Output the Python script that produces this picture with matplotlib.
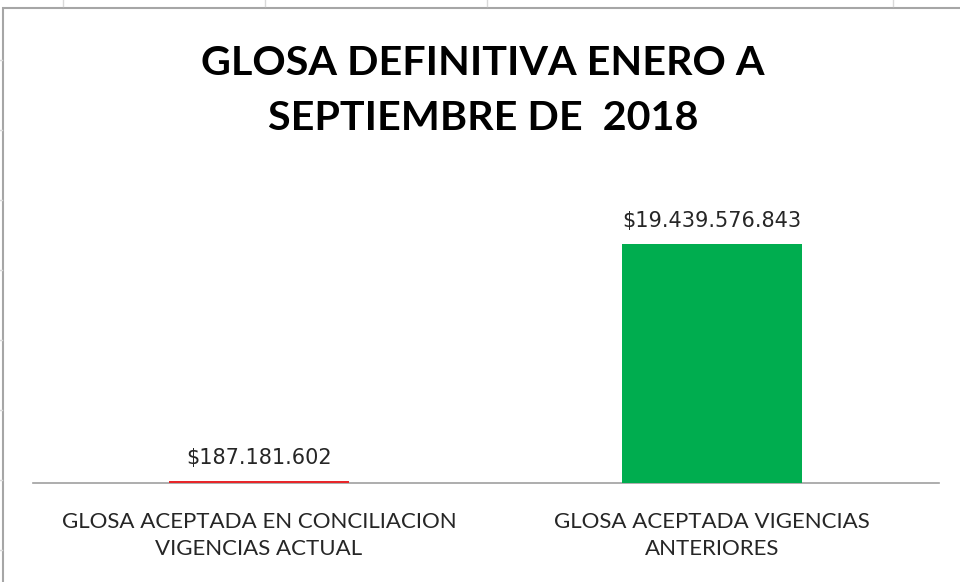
import matplotlib.pyplot as plt
from matplotlib.patches import Rectangle
from matplotlib.lines import Line2D

categories = ["GLOSA ACEPTADA EN CONCILIACION\nVIGENCIAS ACTUAL",
              "GLOSA ACEPTADA VIGENCIAS\nANTERIORES"]
values = [187181602, 19439576843]
colors = ["#E8262A", "#00AD4F"]
title = "GLOSA DEFINITIVA ENERO A\nSEPTIEMBRE DE  2018"

W, H = 960, 582
fig = plt.figure(figsize=(W / 100, H / 100), dpi=100)

# chart frame and sheet gridlines around it
fig.add_artist(Rectangle((3 / W, -0.1), 1.2, 1 - 8 / H + 0.1, transform=fig.transFigure,
                         facecolor="white", edgecolor="#A6A6A6", linewidth=1.5,
                         zorder=-10))
for gx in [63, 265, 487, 893]:
    fig.add_artist(Line2D([gx / W, gx / W], [1 - 6 / H, 1], transform=fig.transFigure,
                          color="#D9D9D9", linewidth=1, zorder=-10))
for gy in [60, 130, 200, 270, 340, 410, 480, 550]:
    fig.add_artist(Line2D([0, 2 / W], [1 - gy / H, 1 - gy / H], transform=fig.transFigure,
                          color="#D9D9D9", linewidth=1, zorder=-10))

left, right = 32.5 / W, 938.5 / W
bottom, top = 1 - 483 / H, 1 - 176 / H
ax = fig.add_axes([left, bottom, right - left, top - bottom])
ax.patch.set_alpha(0)

x = range(len(values))
ax.bar(x, values, width=0.397, color=colors, zorder=3)
ax.set_xlim(-0.5, 1.5)
ax.set_ylim(0, 25e9)

for xi, v in zip(x, values):
    label = "$" + f"{v:,}".replace(",", ".")
    ax.annotate(label, (xi, v), xytext=(0, 9.5), textcoords="offset points",
                ha="center", va="bottom", fontsize=15, color="#262626",
                family="DejaVu Sans")

for s in ["top", "right", "left"]:
    ax.spines[s].set_visible(False)
ax.spines["bottom"].set_color("#A0A0A0")
ax.spines["bottom"].set_linewidth(1.2)
ax.set_yticks([])
ax.set_xticks(list(x))
ax.set_xticklabels(categories, fontsize=16, color="#262626", family="Lato",
                   linespacing=1.45)
ax.tick_params(axis="x", length=0, pad=21)

fig.text(483 / W, 1 - 91 / H, title, ha="center", va="center", fontsize=29.7,
         fontweight="bold", family="Lato", linespacing=1.6, color="black")

fig.savefig("out.png", dpi=100)
